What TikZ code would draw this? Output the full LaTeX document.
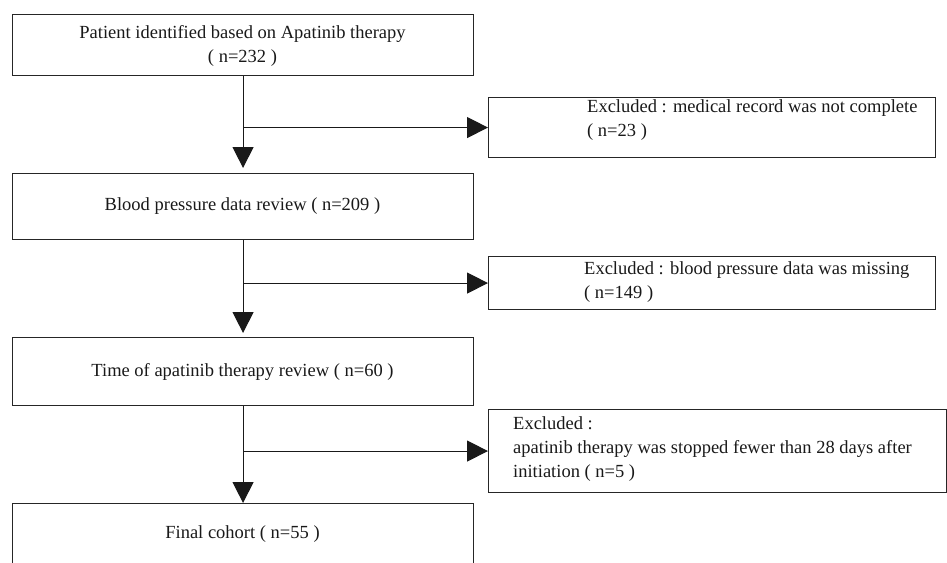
\documentclass[tikz,border=0pt]{standalone}
\usepackage{fontspec}
\setmainfont{Liberation Serif}
\usetikzlibrary{arrows.meta}
\begin{document}
\begin{tikzpicture}[x=1pt,y=-1pt,
  box/.style={draw=black!85, line width=1.1pt, inner sep=0pt, anchor=north west},
  txt/.style={inner sep=0pt, text=black!90, font=\fontsize{18.5}{24}\selectfont},
  arr/.style={draw=black!90, line width=1.1pt, -{Triangle[length=21pt,width=21pt]}},
  ln/.style={draw=black!90, line width=1.1pt}]
\useasboundingbox (0,0) rectangle (947,562);
\clip (0,0) rectangle (947,562);
% main boxes
\node[box, minimum width=461pt, minimum height=61pt] (b1) at (12,14) {};
\node[box, minimum width=461pt, minimum height=66pt] (b2) at (12,173) {};
\node[box, minimum width=461pt, minimum height=68pt] (b3) at (12,337) {};
\node[box, minimum width=461pt, minimum height=61pt] (b4) at (12,503) {};
% exclusion boxes
\node[box, minimum width=447pt, minimum height=60pt] (e1) at (488,97) {};
\node[box, minimum width=447pt, minimum height=53pt] (e2) at (488,256) {};
\node[box, minimum width=458pt, minimum height=83pt] (e3) at (488,409) {};
% texts
\node[txt, align=center] (t1) at (242.5,46) {Patient identified based on Apatinib therapy\\( n=232 )};
\node[txt] (t2) at (242.5,206) {Blood pressure data review ( n=209 )};
\node[txt] (t3) at (242.5,372) {Time of apatinib therapy review ( n=60 )};
\node[txt] (t4) at (242.5,534) {Final cohort ( n=55 )};
\node[txt, align=left, anchor=west] (te1) at (587,120) {Excluded : medical record was not complete\\( n=23 )};
\node[txt, align=left, anchor=west] (te2) at (584,282) {Excluded : blood pressure data was missing\\( n=149 )};
\node[txt, align=left, anchor=west] (te3) at (513,449) {Excluded :\\apatinib therapy was stopped fewer than 28 days after\\initiation ( n=5 )};
% junctions
\coordinate (j1) at (b1.south |- e1.west);
\coordinate (j2) at (b2.south |- e2.west);
\coordinate (j3) at (b3.south |- e3.west);
% connectors
\draw[arr, shorten >=5pt] (b1.south) -- (b2.north);
\draw[arr, shorten >=4pt] (b2.south) -- (b3.north);
\draw[arr] (b3.south) -- (b4.north);
\draw[arr] (j1) -- (e1.west);
\draw[arr] (j2) -- (e2.west);
\draw[arr] (j3) -- (e3.west);
\end{tikzpicture}
\end{document}
